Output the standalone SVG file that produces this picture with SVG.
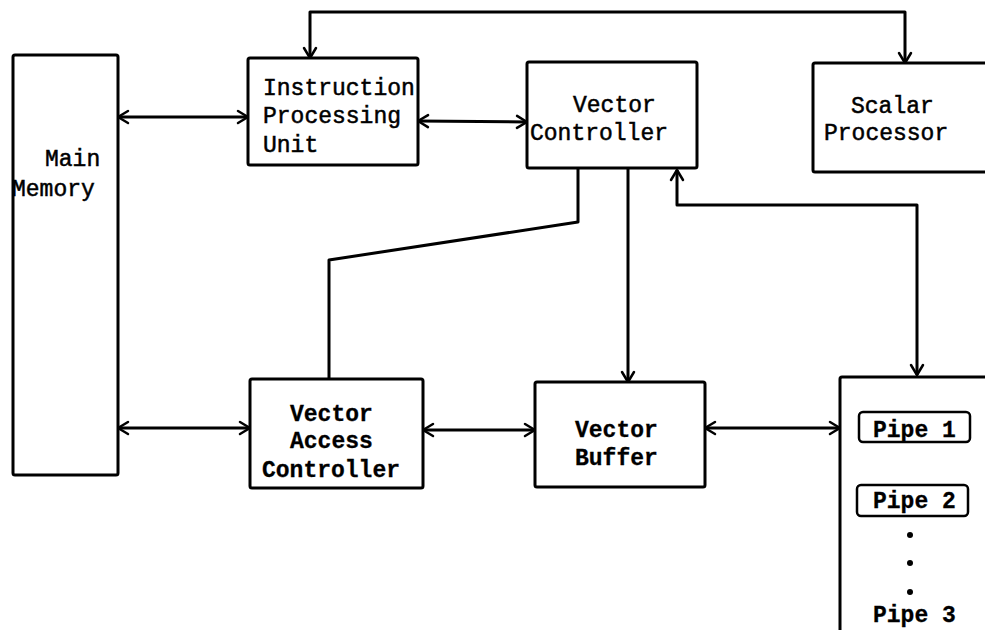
<svg xmlns="http://www.w3.org/2000/svg" width="985" height="630" viewBox="0 0 985 630">
  <style>
    .box { fill: #fff; stroke: #000; stroke-width: 3; stroke-linejoin: round; }
    .pipe { fill: #fff; stroke: #000; stroke-width: 2.5; }
    .wire { fill: none; stroke: #000; stroke-width: 3; stroke-linejoin: round; }
    .lbl { font-family: "Liberation Mono", "DejaVu Sans Mono", monospace; font-size: 23px; fill: #000; stroke: #000; stroke-width: 0.5; }
    .bold { font-weight: bold; stroke-width: 0.3; }
  </style>
  <defs>
    <marker id="arrow" viewBox="-12 -8 14 16" refX="0" refY="0" markerWidth="14" markerHeight="16" markerUnits="userSpaceOnUse" orient="auto-start-reverse">
      <path d="M-10,-6 L0,0 L-10,6" fill="none" stroke="#000" stroke-width="2.5" stroke-linecap="round" stroke-linejoin="round"/>
    </marker>
  </defs>
  <rect width="985" height="630" fill="#fff"/>

  <g id="connectors">
    <line class="wire" x1="118" y1="117" x2="248" y2="117" marker-start="url(#arrow)" marker-end="url(#arrow)"/>
    <line class="wire" x1="418" y1="121" x2="527" y2="122" marker-start="url(#arrow)" marker-end="url(#arrow)"/>
    <path class="wire" d="M310,58 L310,12 L905,12 L905,63" marker-start="url(#arrow)" marker-end="url(#arrow)"/>
    <path class="wire" d="M578,168 L578,222 L329,260 L329,379"/>
    <line class="wire" x1="628" y1="168" x2="628" y2="382" marker-end="url(#arrow)"/>
    <path class="wire" d="M677,170 L677,205 L917,205 L917,375" marker-start="url(#arrow)" marker-end="url(#arrow)"/>
    <line class="wire" x1="118" y1="428" x2="250" y2="428" marker-start="url(#arrow)" marker-end="url(#arrow)"/>
    <line class="wire" x1="423" y1="430" x2="535" y2="430" marker-start="url(#arrow)" marker-end="url(#arrow)"/>
    <line class="wire" x1="705" y1="428" x2="840" y2="428" marker-start="url(#arrow)" marker-end="url(#arrow)"/>
  </g>

  <g id="main-memory">
    <rect class="box" x="13" y="55" width="105" height="420" rx="2"/>
    <text class="lbl" x="45" y="166">Main</text>
    <text class="lbl" x="12" y="196">Memory</text>
  </g>

  <g id="instruction-processing-unit">
    <rect class="box" x="248" y="58" width="170" height="107" rx="2"/>
    <text class="lbl" x="263" y="95">Instruction</text>
    <text class="lbl" x="263" y="123">Processing</text>
    <text class="lbl" x="263" y="152">Unit</text>
  </g>

  <g id="vector-controller">
    <rect class="box" x="527" y="62" width="170" height="106" rx="2"/>
    <text class="lbl" x="573" y="112">Vector</text>
    <text class="lbl" x="530" y="140">Controller</text>
  </g>

  <g id="scalar-processor">
    <rect class="box" x="813" y="63" width="190" height="109" rx="2"/>
    <text class="lbl" x="851" y="113">Scalar</text>
    <text class="lbl" x="824" y="140">Processor</text>
  </g>

  <g id="vector-access-controller">
    <rect class="box" x="250" y="379" width="173" height="109" rx="2"/>
    <text class="lbl bold" x="290" y="421">Vector</text>
    <text class="lbl bold" x="290" y="448">Access</text>
    <text class="lbl bold" x="262" y="477">Controller</text>
  </g>

  <g id="vector-buffer">
    <rect class="box" x="535" y="382" width="170" height="105" rx="2"/>
    <text class="lbl bold" x="575" y="437">Vector</text>
    <text class="lbl bold" x="575" y="465">Buffer</text>
  </g>

  <g id="pipes">
    <rect class="box" x="840" y="377" width="160" height="270" rx="2"/>
    <rect class="pipe" x="859" y="412" width="111" height="30" rx="4"/>
    <text class="lbl bold" x="873" y="437">Pipe 1</text>
    <rect class="pipe" x="857" y="485" width="111" height="31" rx="4"/>
    <text class="lbl bold" x="873" y="508">Pipe 2</text>
    <circle cx="910" cy="535" r="3" fill="#000"/>
    <circle cx="910" cy="563" r="3" fill="#000"/>
    <circle cx="910" cy="592" r="3" fill="#000"/>
    <text class="lbl bold" x="873" y="622">Pipe 3</text>
  </g>
</svg>
